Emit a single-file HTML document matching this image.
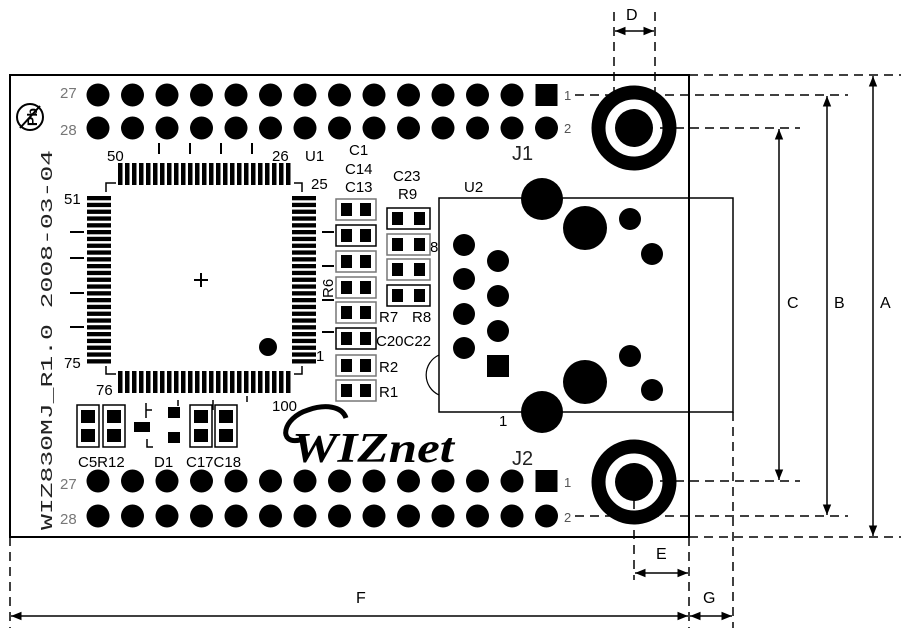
<!DOCTYPE html>
<html><head><meta charset="utf-8"><style>
html,body{margin:0;padding:0;background:#fff;}
svg{display:block;}
</style></head><body>
<svg id="s" width="901" height="632" viewBox="0 0 901 632" xmlns="http://www.w3.org/2000/svg" font-family="Liberation Sans, sans-serif">
<defs>
<marker id="ar" viewBox="0 0 10 10" refX="10" refY="5" markerWidth="7" markerHeight="7" orient="auto-start-reverse"><path d="M0,1 L10,5 L0,9 z" fill="#000"/></marker>
</defs>
<rect x="10" y="75" width="679" height="462" fill="none" stroke="#000" stroke-width="2"/>
<rect x="439" y="198" width="294" height="214" fill="none" stroke="#000" stroke-width="1.5"/>
<path d="M439,355 A22,22 0 0 0 439,395" fill="none" stroke="#000" stroke-width="1.2"/>
<g fill="#000">
<circle cx="542" cy="199" r="21"/><circle cx="585" cy="228" r="22"/><circle cx="630" cy="219" r="11"/><circle cx="652" cy="254" r="11"/>
<circle cx="464" cy="245" r="11"/><circle cx="464" cy="279" r="11"/><circle cx="464" cy="314" r="11"/><circle cx="464" cy="348" r="11"/>
<circle cx="498" cy="261" r="11"/><circle cx="498" cy="296" r="11"/><circle cx="498" cy="331" r="11"/>
<rect x="487" y="355" width="22" height="22"/>
<circle cx="630" cy="356" r="11"/><circle cx="585" cy="382" r="22"/><circle cx="652" cy="390" r="11"/><circle cx="542" cy="412" r="21"/>
</g>
<g>
<circle cx="634" cy="128" r="35.5" fill="none" stroke="#000" stroke-width="14"/>
<circle cx="634" cy="128" r="19" fill="#000"/>
<circle cx="634" cy="482" r="35.5" fill="none" stroke="#000" stroke-width="14"/>
<circle cx="634" cy="482" r="19" fill="#000"/>
</g>
<g id="pins" fill="#000"></g>
<g fill="#777" font-size="15">
<text x="60" y="98">27</text><text x="60" y="135">28</text>
<text x="60" y="489">27</text><text x="60" y="524">28</text>
</g>
<g fill="#555" font-size="13">
<text x="564" y="100">1</text><text x="564" y="133">2</text>
<text x="564" y="487">1</text><text x="564" y="522">2</text>
</g>
<g id="qfp" fill="#000"></g>
<path d="M106,192 V183 H116 M294,183 H302 V192 M106,366 V374 H116 M294,374 H302 V366" fill="none" stroke="#000" stroke-width="1.5"/>
<path d="M194,280 H208 M201,273 V287" stroke="#000" stroke-width="2"/>
<circle cx="268" cy="347" r="9" fill="#000"/>
<g font-size="15" fill="#000" style="font-family:'Liberation Sans Narrow','Liberation Sans',sans-serif">
<text x="107" y="161">50</text><text x="272" y="161">26</text><text x="305" y="161">U1</text>
<text x="64" y="204">51</text><text x="64" y="368">75</text>
<text x="311" y="189">25</text><text x="316" y="361">1</text>
<text x="96" y="395">76</text><text x="272" y="411">100</text>
<text x="349" y="155">C1</text><text x="345" y="174">C14</text><text x="345" y="192">C13</text>
<text x="393" y="181">C23</text><text x="398" y="199">R9</text>
<text x="430" y="252">8</text>
<text x="379" y="322">R7</text><text x="412" y="322">R8</text>
<text x="376" y="346">C20C22</text>
<text x="379" y="372">R2</text><text x="379" y="397">R1</text>
<text x="78" y="467">C5R12</text><text x="154" y="467">D1</text><text x="186" y="467">C17C18</text>
<text transform="translate(333,298) rotate(-90)">R6</text>
<text x="464" y="192">U2</text><text x="499" y="426">1</text>
</g>
<g id="parts"></g>
<text x="512" y="160" font-size="20" fill="#222">J1</text>
<text x="512" y="465" font-size="20" fill="#222">J2</text>
<text transform="translate(52,530) rotate(-90)" font-size="17" fill="#222" textLength="380" lengthAdjust="spacingAndGlyphs" style="font-family:'Liberation Mono',monospace">WIZ830MJ_R1.0  2008-03-04</text>
<circle cx="30" cy="117" r="13" fill="none" stroke="#000" stroke-width="2"/>
<text transform="translate(37,126) rotate(-90)" font-size="14" font-weight="bold">Pb</text>
<path d="M20,128 L40,106" stroke="#000" stroke-width="2"/>
<path d="M300,440 C278,445 282,418 308,410 C325,404 342,406 346,418" fill="none" stroke="#000" stroke-width="5"/>
<text x="292" y="462" font-weight="bold" font-style="italic" font-size="42" textLength="162" lengthAdjust="spacingAndGlyphs" style="font-family:'Liberation Serif',serif">WIZnet</text>
<g fill="#000">
<rect x="134" y="422" width="16" height="10"/><rect x="168" y="407" width="12" height="11"/><rect x="168" y="432" width="12" height="11"/>
</g>
<path d="M146,418 V403 M146,410 H152 M147,439 V447 H153 M178,406 V400 M213,400 V410 M247,396 V402" stroke="#000" stroke-width="1.5" fill="none"/>
<g stroke="#000" stroke-width="1.5" stroke-dasharray="9,6" fill="none">
<path d="M689,75 H901 M575,95 H848 M660,128 H800 M660,481 H800 M575,516 H848 M689,537 H901"/>
<path d="M614,12 V95 M655,12 V95"/>
<path d="M634,500 V580 M689,537 V628 M733,412 V628 M10,537 V628"/>
</g>
<g stroke="#000" stroke-width="1.5" fill="none" marker-start="url(#ar)" marker-end="url(#ar)">
<path d="M873,76 V536"/><path d="M827,96 V515"/><path d="M779,129 V480"/>
<path d="M615,31 H654"/><path d="M635,573 H688"/><path d="M690,616 H732"/><path d="M11,616 H688"/>
</g>
<g font-size="16" fill="#000">
<text x="787" y="308">C</text><text x="834" y="308">B</text><text x="880" y="308">A</text>
<text x="626" y="20">D</text><text x="656" y="559">E</text><text x="703" y="603">G</text><text x="356" y="603">F</text>
</g>
</svg>
<script>
var NS="http://www.w3.org/2000/svg";
function el(p,t,a){var e=document.createElementNS(NS,t);for(var k in a)e.setAttribute(k,a[k]);p.appendChild(e);return e;}
var pins=document.getElementById('pins');
[95,128,481,516].forEach(function(y,ri){
 for(var i=0;i<14;i++){var x=98+i*34.5;
  if(i==13&&(ri==0||ri==2)) el(pins,'rect',{x:x-11,y:y-11,width:22,height:22});
  else el(pins,'circle',{cx:x,cy:y,r:11.5});}
});
var q=document.getElementById('qfp');
for(var i=0;i<25;i++){
 var x=118+i*7; el(q,'rect',{x:x,y:163,width:4.5,height:22}); el(q,'rect',{x:x,y:371,width:4.5,height:22});
 var y=196+i*6.8; el(q,'rect',{x:87,y:y,width:24,height:4.3}); el(q,'rect',{x:292,y:y,width:24,height:4.3});
}
[159,190,221,252].forEach(function(x){el(q,'rect',{x:x-1,y:143,width:2,height:11});});
[232,258,293,327].forEach(function(y){el(q,'rect',{x:70,y:y-1,width:14,height:2});});
var pr=document.getElementById('parts');
function pad2(x,y,w,h,g){el(pr,'rect',{x:x,y:y,width:w,height:h,fill:'none',stroke:g?'#777':'#000','stroke-width':1.5});
 el(pr,'rect',{x:x+5,y:y+4,width:11,height:h-8,fill:'#000'});el(pr,'rect',{x:x+w-16,y:y+4,width:11,height:h-8,fill:'#000'});}
[199,225,251,277,302,328,355,380].forEach(function(y,i){pad2(336,y,40,21,!(i==1||i==5));});
[208,234,259,285].forEach(function(y,i){pad2(387,y,43,21,(i==1||i==2));});
[232,266,300,332].forEach(function(y){el(pr,'rect',{x:322,y:y-1,width:12,height:2,fill:'#000'});});
function padv(x,y){el(pr,'rect',{x:x,y:y,width:22,height:42,fill:'none',stroke:'#000','stroke-width':1.5});
 el(pr,'rect',{x:x+4,y:y+5,width:14,height:13,fill:'#000'});el(pr,'rect',{x:x+4,y:y+24,width:14,height:13,fill:'#000'});}
padv(77,405);padv(103,405);padv(190,405);padv(215,405);
</script>
</body></html>
